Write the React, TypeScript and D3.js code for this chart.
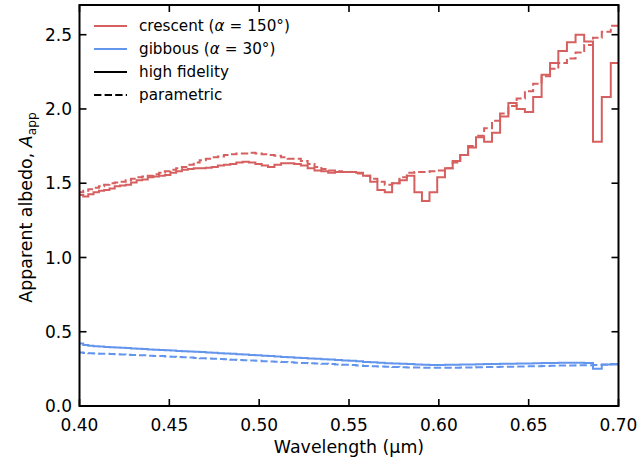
import React from "react";
import * as d3 from "d3";

// Bin start wavelengths (μm), constant resolving power grid
const wavelengths = [
  0.3992, 0.4021, 0.4049, 0.4078, 0.4108, 0.4137, 0.4167, 0.4196, 0.4226, 0.4257,
  0.4287, 0.4318, 0.4349, 0.438, 0.4411, 0.4443, 0.4475, 0.4506, 0.4538, 0.457,
  0.4603, 0.4636, 0.4669, 0.4703, 0.4736, 0.477, 0.4804, 0.4839, 0.4873, 0.4908,
  0.4943, 0.4979, 0.5014, 0.5049, 0.5085, 0.5122, 0.5158, 0.5195, 0.5232, 0.527,
  0.5308, 0.5346, 0.5384, 0.5422, 0.5461, 0.55, 0.554, 0.5578, 0.5618, 0.5658,
  0.5699, 0.574, 0.5781, 0.5822, 0.5864, 0.5906, 0.5948, 0.5991, 0.6034, 0.6077,
  0.6119, 0.6163, 0.6207, 0.6252, 0.6296, 0.6341, 0.6387, 0.6433, 0.6479, 0.6525,
  0.6572, 0.6619, 0.6665, 0.6713, 0.6761, 0.6809, 0.6858, 0.6907, 0.6957,
];
const wavelengthEnd = 0.7;

const crescentHighFidelity = [
  1.42, 1.41, 1.425, 1.44, 1.45, 1.455, 1.465, 1.48, 1.485, 1.49,
  1.505, 1.52, 1.525, 1.54, 1.545, 1.55, 1.555, 1.57, 1.58, 1.59,
  1.595, 1.6, 1.6, 1.605, 1.61, 1.62, 1.625, 1.63, 1.64, 1.645,
  1.64, 1.63, 1.62, 1.61, 1.625, 1.635, 1.635, 1.63, 1.62, 1.6,
  1.585, 1.58, 1.57, 1.575, 1.575, 1.575, 1.57, 1.55, 1.51, 1.455,
  1.44, 1.5, 1.52, 1.55, 1.44, 1.38, 1.44, 1.54, 1.6, 1.65,
  1.69, 1.74, 1.81, 1.78, 1.84, 1.95, 2.04, 2.0, 1.98, 2.08,
  2.23, 2.31, 2.39, 2.45, 2.5, 2.455, 1.78, 2.08, 2.31,
];

const crescentParametric = [
  1.44, 1.45, 1.46, 1.47, 1.48, 1.49, 1.5, 1.505, 1.51, 1.52,
  1.53, 1.54, 1.545, 1.55, 1.56, 1.57, 1.58, 1.59, 1.6, 1.61,
  1.625, 1.64, 1.655, 1.665, 1.675, 1.68, 1.69, 1.695, 1.7, 1.7,
  1.705, 1.7, 1.695, 1.69, 1.685, 1.675, 1.665, 1.665, 1.65, 1.63,
  1.61, 1.595, 1.585, 1.58, 1.575, 1.575, 1.565, 1.55, 1.53, 1.51,
  1.49, 1.5, 1.54, 1.57, 1.575, 1.575, 1.58, 1.585, 1.6, 1.64,
  1.69, 1.75, 1.82, 1.87, 1.92, 1.97, 2.02, 2.07, 2.12, 2.17,
  2.22, 2.27, 2.31, 2.34, 2.38, 2.43, 2.48, 2.52, 2.56,
];

const gibbousHighFidelity = [
  0.42, 0.41, 0.405, 0.402, 0.4, 0.398, 0.396, 0.394, 0.392, 0.39,
  0.387, 0.385, 0.383, 0.381, 0.379, 0.377, 0.375, 0.373, 0.371, 0.369,
  0.367, 0.365, 0.363, 0.361, 0.358, 0.356, 0.354, 0.351, 0.349, 0.346,
  0.344, 0.341, 0.339, 0.336, 0.333, 0.33, 0.328, 0.325, 0.323, 0.32,
  0.318, 0.315, 0.313, 0.31, 0.307, 0.304, 0.301, 0.297, 0.294, 0.291,
  0.288, 0.286, 0.284, 0.283, 0.28, 0.277, 0.276, 0.276, 0.277, 0.278,
  0.279, 0.28, 0.281, 0.282, 0.283, 0.284, 0.285, 0.286, 0.287, 0.288,
  0.289, 0.29, 0.291, 0.292, 0.291, 0.289, 0.25, 0.28, 0.283,
];

const gibbousParametric = [
  0.36, 0.357, 0.355, 0.354, 0.352, 0.351, 0.35, 0.348, 0.347, 0.345,
  0.344, 0.342, 0.341, 0.339, 0.337, 0.336, 0.334, 0.332, 0.33, 0.328,
  0.326, 0.324, 0.322, 0.32, 0.318, 0.316, 0.314, 0.312, 0.31, 0.308,
  0.306, 0.304, 0.302, 0.3, 0.298, 0.296, 0.294, 0.292, 0.29, 0.288,
  0.286, 0.284, 0.282, 0.28, 0.278, 0.276, 0.273, 0.27, 0.268, 0.266,
  0.264, 0.262, 0.261, 0.26, 0.259, 0.258, 0.257, 0.257, 0.257, 0.258,
  0.259, 0.26, 0.261, 0.262, 0.263, 0.264, 0.265, 0.266, 0.267, 0.268,
  0.27, 0.271, 0.272, 0.273, 0.274, 0.275, 0.276, 0.277, 0.279,
];

const xTicks = [0.4, 0.45, 0.5, 0.55, 0.6, 0.65, 0.7];
const yTicks = [0, 0.5, 1.0, 1.5, 2.0, 2.5];

const RED = "#d65f5f";
const BLUE = "#6495ed";
const FONT = "DejaVu Sans";

export default function App() {
  const W = 641;
  const H = 463;
  const left = 79.5;
  const right = 618.5;
  const top = 5;
  const bottom = 406;

  const x = d3.scaleLinear().domain([0.4, 0.7]).range([left, right]);
  const y = d3.scaleLinear().domain([0, 2.7]).range([bottom, top]);

  const stepPath = (vals: number[]) => {
    const pts: [number, number][] = wavelengths.map((w, i) => [w, vals[i]]);
    pts.push([wavelengthEnd, vals[vals.length - 1]]);
    return (
      d3
        .line<[number, number]>()
        .x((d) => x(d[0]))
        .y((d) => y(d[1]))
        .curve(d3.curveStepAfter)(pts) || ""
    );
  };

  const series = [
    { vals: crescentHighFidelity, color: RED, dash: undefined },
    { vals: crescentParametric, color: RED, dash: "7.4,3.2" },
    { vals: gibbousHighFidelity, color: BLUE, dash: undefined },
    { vals: gibbousParametric, color: BLUE, dash: "7.4,3.2" },
  ];

  const tickLen = 7;
  const tickFont = 17;
  const legendItems = [
    { color: RED, dash: undefined, label: "crescent", alpha: "150" },
    { color: BLUE, dash: undefined, label: "gibbous", alpha: "30" },
    { color: "#000", dash: undefined, label: "high fidelity" },
    { color: "#000", dash: "7.4,3.2", label: "parametric" },
  ];

  return (
    <svg
      width={W}
      height={H}
      style={{ position: "absolute", left: 0, top: 0, background: "#fff" }}
      fontFamily={FONT}
    >
      <defs>
        <clipPath id="plotclip">
          <rect x={left} y={top} width={right - left} height={bottom - top} />
        </clipPath>
      </defs>
      <rect x={0} y={0} width={W} height={H} fill="#fff" />
      <g clipPath="url(#plotclip)">
        {series.map((s, i) => (
          <path
            key={i}
            d={stepPath(s.vals)}
            fill="none"
            stroke={s.color}
            strokeWidth={2}
            strokeDasharray={s.dash}
            strokeLinejoin="miter"
          />
        ))}
      </g>

      {/* ticks */}
      {xTicks.map((t) => (
        <g key={"xt" + t}>
          <line x1={x(t)} x2={x(t)} y1={bottom} y2={bottom - tickLen} stroke="#000" strokeWidth={1.6} />
          <line x1={x(t)} x2={x(t)} y1={top} y2={top + tickLen} stroke="#000" strokeWidth={1.6} />
          <text x={x(t)} y={431} fontSize={tickFont} textAnchor="middle" fill="#000">
            {d3.format(".2f")(t)}
          </text>
        </g>
      ))}
      {yTicks.map((t) => (
        <g key={"yt" + t}>
          <line x1={left} x2={left + tickLen} y1={y(t)} y2={y(t)} stroke="#000" strokeWidth={1.6} />
          <line x1={right} x2={right - tickLen} y1={y(t)} y2={y(t)} stroke="#000" strokeWidth={1.6} />
          <text x={72} y={y(t)} dy="0.36em" fontSize={tickFont} textAnchor="end" fill="#000">
            {d3.format(".1f")(t)}
          </text>
        </g>
      ))}

      <rect
        x={left}
        y={top}
        width={right - left}
        height={bottom - top}
        fill="none"
        stroke="#000"
        strokeWidth={2}
      />

      <text x={(left + right) / 2} y={453} fontSize={17.4} textAnchor="middle" fill="#000">
        Wavelength (μm)
      </text>
      <text
        transform={`translate(32,${(top + bottom) / 2 + 2}) rotate(-90)`}
        fontSize={17.4}
        textAnchor="middle"
        fill="#000"
      >
        Apparent albedo,{" "}
        <tspan fontStyle="italic">A</tspan>
        <tspan fontSize={12.2} dy={4}>app</tspan>
      </text>

      {/* legend */}
      {legendItems.map((it, i) => {
        const cy = 26 + i * 23;
        return (
          <g key={"lg" + i}>
            <line x1={94} x2={127} y1={cy} y2={cy} stroke={it.color} strokeWidth={2} strokeDasharray={it.dash} />
            <text x={139} y={cy} dy="0.36em" fontSize={15.2} fill="#000">
              {it.alpha ? (
                <>
                  {it.label} (<tspan fontStyle="italic">α</tspan>
                  <tspan dx={5}>=</tspan>
                  <tspan dx={5}>{it.alpha}°)</tspan>
                </>
              ) : (
                it.label
              )}
            </text>
          </g>
        );
      })}
    </svg>
  );
}
